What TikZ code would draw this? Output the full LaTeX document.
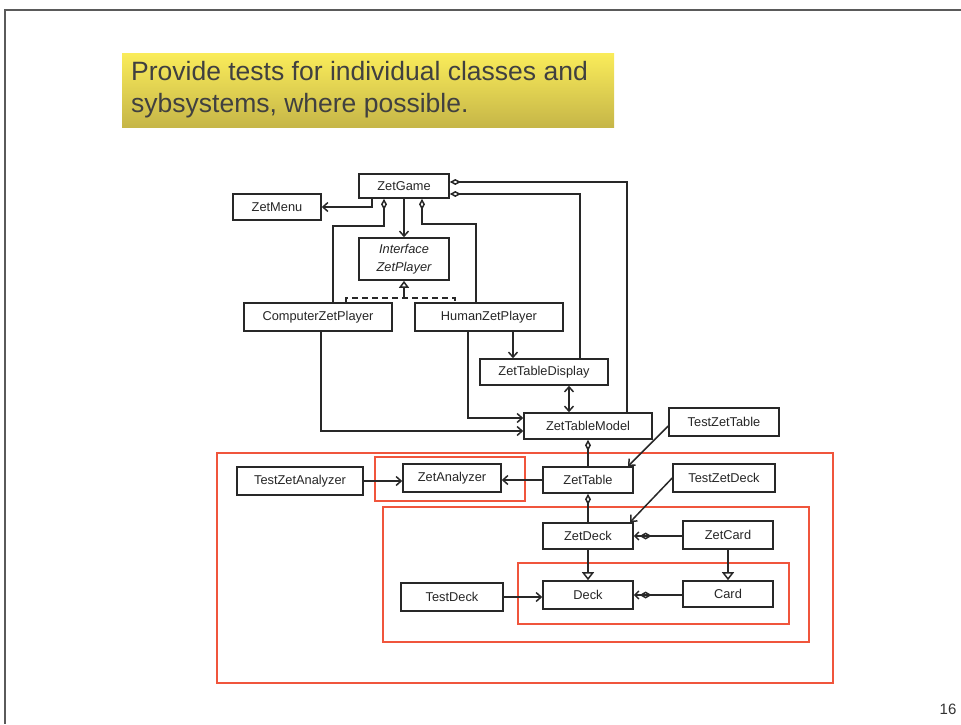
\documentclass[tikz,border=0pt]{standalone}
\usepackage{fontspec}
\setmainfont{Liberation Sans}
\usetikzlibrary{arrows.meta}
\definecolor{frame}{RGB}{90,90,90}
\definecolor{boxline}{RGB}{40,40,40}
\definecolor{redline}{RGB}{240,85,60}
\definecolor{ytop}{RGB}{250,236,90}
\definecolor{ybot}{RGB}{198,182,72}
\begin{document}
\begin{tikzpicture}[x=1pt,y=-1pt,
  cls/.style={draw=boxline, line width=1.6pt, fill=white, inner sep=0pt,
    font=\fontsize{12.8}{15}\selectfont, text=black!85},
  conn/.style={draw=boxline, line width=1.5pt},
  assoc/.style={conn, -{Straight Barb[length=5pt,width=9pt]}},
  agg/.style={conn, {Diamond[open,length=11pt,width=6pt]}-},
  inherit/.style={conn, -{Triangle[open,length=8pt,width=12pt]}},
  real/.style={conn, dash pattern=on 6pt off 4pt},
  navagg/.style={conn, {Straight Barb[length=4pt,width=8pt] Diamond[open,length=12pt,width=7pt]}-},
  group/.style={draw=redline, line width=1.6pt}]
\useasboundingbox (0,0) rectangle (961,724);

% slide frame
\draw[frame, line width=1.8pt] (961,10) -- (5,10) -- (5,724);
\node[anchor=base, font=\fontsize{15}{18}\selectfont, text=black!80] (page) at (948,714) {16};

% heading
\node[shading=axis, top color=ytop, bottom color=ybot, minimum width=492, minimum height=74,
  inner sep=0pt] (headbox) at (368,90) {};
\node[anchor=north west, align=left, inner sep=0pt, text=black!75,
  font=\fontsize{26.5}{32}\selectfont] (head) at (131,61)
  {Provide tests for individual classes and\\sybsystems, where possible.};

% subsystem boundaries
\draw[group] (217,453) rectangle (833,683);
\draw[group] (375,457) rectangle (525,501);
\draw[group] (383,507) rectangle (809,642);
\draw[group] (518,563) rectangle (789,624);

% classes
\node[cls, minimum width=90, minimum height=24] (game) at (404,186) {ZetGame};
\node[cls, minimum width=88, minimum height=26] (menu) at (277,207) {ZetMenu};
\node[cls, minimum width=90, minimum height=42, align=center,
  font=\fontsize{12.8}{18}\itshape] (iface) at (404,259) {Interface\\ZetPlayer};
\node[cls, minimum width=148, minimum height=28] (computer) at (318,317) {ComputerZetPlayer};
\node[cls, minimum width=148, minimum height=28] (human) at (489,317) {HumanZetPlayer};
\node[cls, minimum width=128, minimum height=26] (display) at (544,372) {ZetTableDisplay};
\node[cls, minimum width=128, minimum height=26] (model) at (588,426) {ZetTableModel};
\node[cls, minimum width=110, minimum height=28] (testtable) at (724,422) {TestZetTable};
\node[cls, minimum width=90, minimum height=26] (table) at (588,480) {ZetTable};
\node[cls, minimum width=102, minimum height=28] (testzetdeck) at (724,478) {TestZetDeck};
\node[cls, minimum width=90, minimum height=26] (zetdeck) at (588,536) {ZetDeck};
\node[cls, minimum width=90, minimum height=28] (zetcard) at (728,535) {ZetCard};
\node[cls, minimum width=90, minimum height=28] (deck) at (588,595) {Deck};
\node[cls, minimum width=90, minimum height=26] (card) at (728,594) {Card};
\node[cls, minimum width=126, minimum height=28] (testanalyzer) at (300,481) {TestZetAnalyzer};
\node[cls, minimum width=98, minimum height=28] (analyzer) at (452,478) {ZetAnalyzer};
\node[cls, minimum width=102, minimum height=28] (testdeck) at (452,597) {TestDeck};

% relations around the game
\draw[assoc] ([xshift=-32pt]game.south) |- (menu.east);
\draw[assoc] (game.south) -- (iface.north);
\draw[agg] ([xshift=-20pt]game.south) -- ++(0,27) -| ([xshift=15pt]computer.north);
\draw[agg] ([xshift=18pt]game.south) -- ++(0,25) -| ([xshift=-13pt]human.north);
\draw[agg] ([yshift=-8pt]game.east) -| ([xshift=36pt]display.north);
\draw[agg] ([yshift=4pt]game.east) -| ([xshift=39pt]model.north);

% players realize the interface
\coordinate (rj) at (404,298);
\draw[real] ([xshift=28pt]computer.north) |- (rj) -| ([xshift=-34pt]human.north);
\draw[conn, -{Triangle[open,length=7pt,width=10pt]}] (rj) -- (iface.south);

% players and the table
\draw[assoc] ([xshift=24pt]human.south) -- ([xshift=-31pt]display.north);
\draw[assoc] ([xshift=-21pt]human.south) |- ([yshift=8pt]model.west);
\draw[assoc] ([xshift=3pt]computer.south) |- ([yshift=-5pt]model.west);
\draw[conn, {Straight Barb[length=5pt,width=9pt]}-{Straight Barb[length=5pt,width=9pt]}]
  ([xshift=25pt]display.south) -- ([xshift=-19pt]model.north);

% table subsystem
\draw[agg] (model.south) -- (table.north);
\draw[assoc] ([yshift=-4pt]testtable.west) -- ([xshift=40pt]table.north);
\draw[assoc] (table.west) -- (analyzer.east |- table.west);
\draw[assoc] (testanalyzer.east) -- (analyzer.west |- testanalyzer.east);
\draw[agg] (table.south) -- (zetdeck.north);
\draw[assoc] (testzetdeck.west) -- ([xshift=42pt]zetdeck.north);
\draw[navagg] (zetdeck.east) -- (zetcard.west |- zetdeck.east);
\draw[inherit] (zetdeck.south) -- (deck.north);
\draw[inherit] (zetcard.south) -- (card.north);
\draw[navagg] (deck.east) -- (card.west |- deck.east);
\draw[assoc] (testdeck.east) -- (deck.west |- testdeck.east);
\end{tikzpicture}
\end{document}
